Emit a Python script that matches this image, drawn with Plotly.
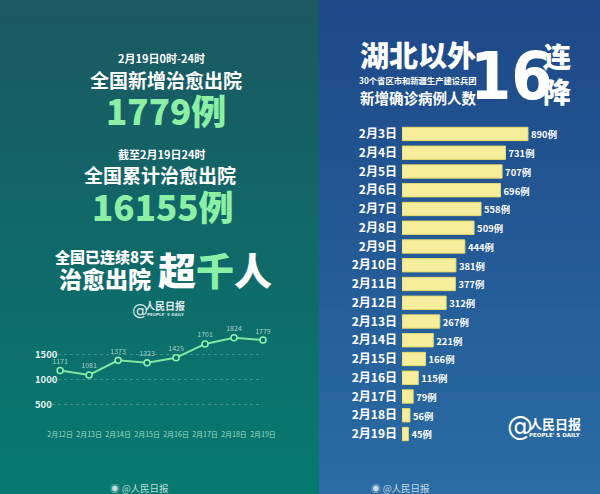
import plotly.graph_objects as go

# ---------------- data ----------------
line_dates = ["2月12日", "2月13日", "2月14日", "2月15日", "2月16日", "2月17日", "2月18日", "2月19日"]
line_values = [1171, 1081, 1373, 1323, 1425, 1701, 1824, 1779]
line_grid = [0, 500, 1000, 1500, 2000]
line_tick_text = ["", "500", "1000", "1500", ""]

bar_dates = ["2月3日", "2月4日", "2月5日", "2月6日", "2月7日", "2月8日", "2月9日", "2月10日",
             "2月11日", "2月12日", "2月13日", "2月14日", "2月15日", "2月16日", "2月17日",
             "2月18日", "2月19日"]
bar_values = [890, 731, 707, 696, 558, 509, 444, 381, 377, 312, 267, 221, 166, 115, 79, 56, 45]

W, H = 600, 494
CJK = "Noto Sans CJK SC"
GREEN = "#8cefa6"


def px(x):
    return x / W


def py(y):
    return 1 - y / H


def lerp(c1, c2, t):
    return "rgb(%d,%d,%d)" % tuple(round(a + (b - a) * t) for a, b in zip(c1, c2))


shapes = []
N = 95
split = 319
left_top, left_bot = (27, 88, 98), (6, 122, 112)
right_top, right_bot = (30, 72, 136), (42, 108, 164)
for i in range(N):
    y0, y1 = H * i / N, H * (i + 1) / N + 0.6
    t = i / (N - 1)
    shapes.append(dict(type="rect", xref="paper", yref="paper", layer="below",
                       x0=0, x1=px(split), y0=py(y1), y1=py(y0),
                       fillcolor=lerp(left_top, left_bot, t), line_width=0))
    shapes.append(dict(type="rect", xref="paper", yref="paper", layer="below",
                       x0=px(split), x1=1, y0=py(y1), y1=py(y0),
                       fillcolor=lerp(right_top, right_bot, t), line_width=0))

fig = go.Figure()

# ---------------- left: line chart ----------------
fig.add_trace(go.Scatter(
    x=line_dates, y=line_values, mode="lines+markers+text",
    text=[str(v) for v in line_values], textposition="top center",
    textfont=dict(family=CJK, size=7, color="rgba(215,230,225,0.8)"),
    line=dict(color="#7fe6a2", width=2),
    marker=dict(size=6, color="#0e6a68", line=dict(color="#8ef0ab", width=1.6)),
    cliponaxis=False, xaxis="x", yaxis="y", showlegend=False, hoverinfo="skip"))

# ---------------- right: bar chart ----------------
fig.add_trace(go.Bar(
    x=bar_values, y=bar_dates, orientation="h",
    text=[f"{v}例" for v in bar_values], textposition="outside",
    textfont=dict(family=CJK, size=12, color="white", weight=700),
    marker=dict(color="#f6ee9c", line=dict(color="#e6d86a", width=1)),
    cliponaxis=False, xaxis="x2", yaxis="y2", showlegend=False, hoverinfo="skip"))

ann = []


def A(text, x, y, size, color="white", weight=700, family=CJK, xanchor="center"):
    ann.append(dict(text=text, x=px(x), y=py(y), xref="paper", yref="paper",
                    xanchor=xanchor, yanchor="middle", showarrow=False,
                    font=dict(family=family, size=size, color=color, weight=weight)))


# left titles
A("2月19日0时-24时", 161, 58, 11)
A("全国新增治愈出院", 166, 79, 19)
A("1779例", 166, 109, 35, GREEN, 900)
A("截至2月19日24时", 161, 154, 11)
A("全国累计治愈出院", 160, 174, 19)
A("16155例", 163, 205, 35, GREEN, 900)
A("全国已连续8天", 104, 256, 15, weight=900)
A("治愈出院", 105, 278, 23, weight=900)
A(f"超<span style='color:{GREEN}'>千</span>人", 215, 268, 38, weight=900)
A("@", 140, 309, 16, "rgba(255,255,255,0.85)", 400, "DejaVu Sans")
A("人民日报", 165, 305, 10, "rgba(255,255,255,0.9)")
A("PEOPLE' S DAILY", 165, 314, 4, "rgba(255,255,255,0.8)", 700, "DejaVu Sans")

# y tick labels (left aligned as in reference)
for v, t in zip(line_grid, line_tick_text):
    if t:
        ann.append(dict(text=t, x=px(33), y=v, xref="paper", yref="y", xanchor="left",
                        yanchor="middle", showarrow=False,
                        font=dict(family=CJK, size=9.5, color="#e6f2ee", weight=700)))

# right titles
A("湖北以外", 418, 54, 29, weight=900)
A("30个省区市和新疆生产建设兵团", 418, 80, 8.3)
A("新增确诊病例人数", 418, 97, 14.5)
A("16", 511, 77, 66, family="DejaVu Sans Condensed")
A("连", 557, 56, 28, weight=900)
A("降", 557, 91, 28, weight=900)

# right logo
A("@", 520, 426, 26, "white", 400, "DejaVu Sans")
A("人民日报", 555, 423, 13)
A("PEOPLE' S DAILY", 555, 435, 5.5, "white", 700, "DejaVu Sans")

# footers
A("◉ @人民日报", 139, 488, 9.5, "rgba(255,255,255,0.75)", 400)
A("◉ @人民日报", 400, 488, 9.5, "rgba(255,255,255,0.75)", 400)

fig.update_layout(
    width=W, height=H, margin=dict(l=0, r=0, t=0, b=0, autoexpand=False),
    paper_bgcolor="#11666a", plot_bgcolor="rgba(0,0,0,0)",
    shapes=shapes, annotations=ann, bargap=0.29,
    xaxis=dict(domain=[px(52), px(263)], type="category", range=[-0.28, 7],
               showgrid=False, zeroline=False, showline=False, ticks="",
               tickangle=0, automargin=False,
               tickfont=dict(family=CJK, size=7, color="#a4dcc4")),
    yaxis=dict(domain=[py(429), py(329)], range=[0, 2000], tickvals=line_grid,
               showticklabels=False, showgrid=True, griddash="dot", automargin=False,
               gridcolor="rgba(200,235,225,0.28)", gridwidth=1, zeroline=False),
    xaxis2=dict(domain=[px(402), px(560)], range=[0, 1116], visible=False, anchor="y2",
                automargin=False),
    yaxis2=dict(domain=[py(443.4), py(124.6)], type="category", autorange="reversed",
                anchor="x2", showgrid=False, zeroline=False, showline=False, ticks="",
                ticklabelstandoff=4, automargin=False,
                tickfont=dict(family=CJK, size=12, color="white", weight=700)),
)

fig.write_html("out.html")
